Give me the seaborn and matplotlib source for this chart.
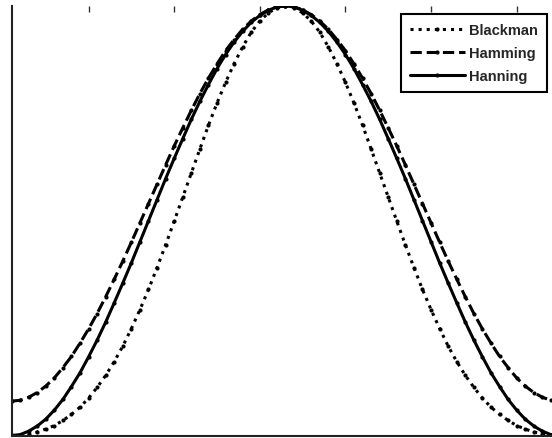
import numpy as np
import pandas as pd
import matplotlib
matplotlib.use("Agg")
import matplotlib.pyplot as plt
import seaborn as sns

# sample index 1..65, window values
n = list(range(1, 66))

blackman = [0.000, 0.001, 0.004, 0.008, 0.015, 0.023, 0.035, 0.049, 0.066, 0.087,
            0.112, 0.140, 0.172, 0.208, 0.249, 0.293, 0.340, 0.391, 0.444, 0.499,
            0.555, 0.611, 0.667, 0.722, 0.774, 0.822, 0.866, 0.905, 0.939, 0.965,
            0.984, 0.996, 1.000, 0.996, 0.984, 0.965, 0.939, 0.905, 0.866, 0.822,
            0.774, 0.722, 0.667, 0.611, 0.555, 0.499, 0.444, 0.391, 0.340, 0.293,
            0.249, 0.208, 0.172, 0.140, 0.112, 0.087, 0.066, 0.049, 0.035, 0.023,
            0.015, 0.008, 0.004, 0.001, 0.000]

hamming = [0.080, 0.082, 0.089, 0.100, 0.115, 0.134, 0.158, 0.184, 0.215, 0.248,
           0.284, 0.323, 0.364, 0.406, 0.450, 0.495, 0.540, 0.585, 0.630, 0.674,
           0.716, 0.757, 0.796, 0.832, 0.865, 0.896, 0.922, 0.946, 0.965, 0.980,
           0.991, 0.998, 1.000, 0.998, 0.991, 0.980, 0.965, 0.946, 0.922, 0.896,
           0.865, 0.832, 0.796, 0.757, 0.716, 0.674, 0.630, 0.585, 0.540, 0.495,
           0.450, 0.406, 0.364, 0.323, 0.284, 0.248, 0.215, 0.184, 0.158, 0.134,
           0.115, 0.100, 0.089, 0.082, 0.080]

hanning = [0.000, 0.002, 0.010, 0.022, 0.038, 0.059, 0.084, 0.114, 0.146, 0.183,
           0.222, 0.264, 0.309, 0.355, 0.402, 0.451, 0.500, 0.549, 0.598, 0.645,
           0.691, 0.736, 0.778, 0.817, 0.854, 0.887, 0.916, 0.941, 0.962, 0.978,
           0.990, 0.998, 1.000, 0.998, 0.990, 0.978, 0.962, 0.941, 0.916, 0.887,
           0.854, 0.817, 0.778, 0.736, 0.691, 0.645, 0.598, 0.549, 0.500, 0.451,
           0.402, 0.355, 0.309, 0.264, 0.222, 0.183, 0.146, 0.114, 0.084, 0.059,
           0.038, 0.022, 0.010, 0.002, 0.000]

sns.set_style("white")
plt.rcParams["font.family"] = ["Liberation Sans", "DejaVu Sans"]

W, H = 552, 439
fig = plt.figure(figsize=(W / 100, H / 100), dpi=100)
# axes spans x=1..65, right edge runs past the cropped image
ax = fig.add_axes([11.5 / W, 2.5 / H, 548 / W, 429.5 / H])

style = dict(ax=ax, color="black", linewidth=2.2, marker=".", markersize=6,
             markeredgewidth=0, markerfacecolor="black")
sns.lineplot(x=n, y=blackman, linestyle=":", label="Blackman", **style)
sns.lineplot(x=n, y=hamming, linestyle="--", label="Hamming", **style)
sns.lineplot(x=n, y=hanning, linestyle="-", label="Hanning", **style)

ax.set_xlim(1, 65)
ax.set_ylim(0, 1)
ax.set_xticks(range(10, 70, 10))
ax.set_yticks(np.arange(0, 1.01, 0.1))
ax.tick_params(direction="in", length=4, width=1, color="#333333",
               top=True, right=True, labelbottom=False, labelleft=False)
for s in ["top", "right"]:
    ax.spines[s].set_visible(False)
for s in ["left", "bottom"]:
    ax.spines[s].set_color("#222222")
    ax.spines[s].set_linewidth(1.5)

leg = ax.legend(loc="upper right", bbox_to_anchor=(547 / W, 1 - 15 / H),
                bbox_transform=fig.transFigure, borderaxespad=0, fancybox=False,
                edgecolor="black", framealpha=1, fontsize=10.5, handlelength=3.8,
                numpoints=1, labelspacing=0.62, borderpad=0.6, handletextpad=0.3)
leg.get_frame().set_linewidth(1.5)
for t in leg.get_texts():
    t.set_fontweight("semibold")

ax.set_xlabel("")
ax.set_ylabel("")
fig.savefig("out.png", dpi=100)
